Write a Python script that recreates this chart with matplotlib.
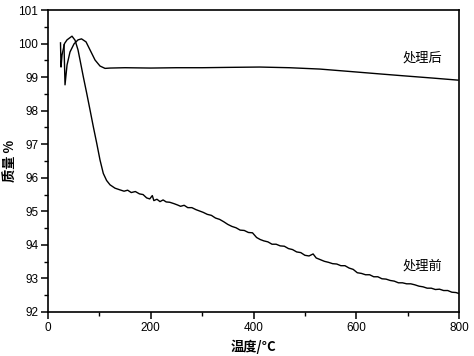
import matplotlib
matplotlib.use("Agg")
import matplotlib.pyplot as plt
from matplotlib.ticker import MultipleLocator

# 处理前 (before treatment)
before_x = [24.3, 25.3, 27.3, 32.1, 37, 46.7, 52.6, 58.4, 62.3, 68.7, 75.3, 81.8, 88.2,
            94.8, 101.2, 107.6, 114, 120.7, 130.4,
            140, 148, 155, 162, 170, 178, 185, 192, 198, 203, 206, 212, 218, 224, 230,
            237, 245, 252, 258, 265, 272, 280, 288, 295, 302, 310, 318, 326, 334, 342,
            350, 358, 366, 374, 382, 390, 398, 406, 413, 420, 428, 436, 444, 452, 460,
            468, 476, 484, 492, 500, 508, 516, 522, 530, 538, 546, 554, 562, 570, 578,
            586, 594, 602, 610, 618, 626, 634, 642, 650, 658, 666, 674, 682, 690, 698,
            706, 714, 722, 730, 738, 746, 754, 762, 770, 778, 786, 794, 800]
before_y = [100.02, 99.30, 99.66, 100.0, 100.11, 100.22, 100.1, 99.81, 99.51, 99.01, 98.52,
            98.02, 97.52, 97.03, 96.53, 96.13, 95.92, 95.79, 95.69,
            95.64, 95.60, 95.63, 95.56, 95.59, 95.52, 95.50, 95.40, 95.37, 95.47, 95.32,
            95.36, 95.29, 95.34, 95.28, 95.27, 95.23, 95.19, 95.15, 95.18, 95.11, 95.11,
            95.05, 95.01, 94.97, 94.91, 94.88, 94.80, 94.76, 94.69, 94.61, 94.55, 94.51,
            94.44, 94.43, 94.37, 94.36, 94.22, 94.16, 94.12, 94.09, 94.02, 94.02, 93.97,
            93.96, 93.89, 93.86, 93.79, 93.77, 93.69, 93.67, 93.73, 93.61, 93.56, 93.51,
            93.48, 93.44, 93.43, 93.38, 93.38, 93.31, 93.27, 93.17, 93.15, 93.11, 93.11,
            93.05, 93.05, 92.99, 92.98, 92.94, 92.92, 92.87, 92.87, 92.84, 92.84, 92.81,
            92.77, 92.75, 92.71, 92.71, 92.67, 92.68, 92.64, 92.64, 92.59, 92.58, 92.55]

# 处理后 (after treatment)
after_x = [31.1, 33.1, 37, 42.8, 50.6, 58.4, 65.2, 74, 81.8, 91.5, 101.2, 111, 121, 150,
           200, 250, 300, 350, 412, 470, 529, 594, 650, 691, 750, 798]
after_y = [99.96, 98.77, 99.36, 99.75, 99.99, 100.11, 100.14, 100.05, 99.81, 99.51, 99.33,
           99.26, 99.27, 99.28, 99.27, 99.28, 99.28, 99.29, 99.30, 99.28, 99.24, 99.16,
           99.09, 99.04, 98.97, 98.91]

x_ticks = [0, 200, 400, 600, 800]
y_ticks = [92, 93, 94, 95, 96, 97, 98, 99, 100, 101]

cjk = ['Noto Sans CJK SC', 'DejaVu Sans']
num_font = 'Liberation Sans'

fig = plt.figure(figsize=(4.74, 3.56), dpi=100)
ax = fig.add_axes([0.1013, 0.1236, 0.8671, 0.8483])

ax.plot(before_x, before_y, color='black', lw=1.0)
ax.plot(after_x, after_y, color='black', lw=1.0)

ax.set_xlim(0, 800)
ax.set_ylim(92, 101)
ax.set_xticks(x_ticks)
ax.set_yticks(y_ticks)
ax.xaxis.set_minor_locator(MultipleLocator(100))
ax.yaxis.set_minor_locator(MultipleLocator(0.5))
ax.tick_params(which='major', direction='out', length=5, width=1.1, labelsize=8.5, pad=2)
ax.tick_params(which='minor', direction='out', length=3, width=1.0)
for lab in ax.get_xticklabels() + ax.get_yticklabels():
    lab.set_fontfamily(num_font)
for s in ax.spines.values():
    s.set_linewidth(1.2)

ax.text(728, 99.57, '处理后', family=cjk, fontsize=9.5, ha='center', va='center')
ax.text(728, 93.37, '处理前', family=cjk, fontsize=9.5, ha='center', va='center')

ax.set_xlabel('温度/°C', family=cjk, fontsize=9.5, labelpad=4, fontweight='bold')
ax.set_ylabel('质量 %', family=cjk, fontsize=9.5, fontweight='bold', va='center')
ax.yaxis.set_label_coords(-0.09, 0.5)

fig.savefig('out.png', dpi=100)
